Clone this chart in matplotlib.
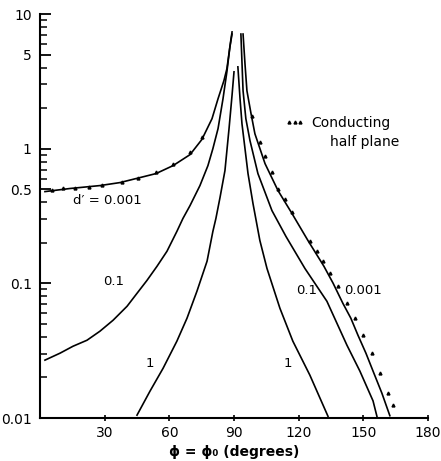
import matplotlib
matplotlib.use("Agg")
import matplotlib.pyplot as plt
from matplotlib.ticker import FixedLocator, NullFormatter

# ---- data (angle in degrees, normalised value) ----
l001_x = [2.3, 13.9, 27.8, 37.1, 46.4, 53.8, 61.7, 69.6, 75.1, 79.8, 82.6, 85.3, 86.7, 88.6, 89.1]
l001_y = [0.48, 0.506, 0.532, 0.560, 0.610, 0.653, 0.748, 0.903, 1.17, 1.67, 2.35, 3.19, 3.92, 6.53, 7.36]

l01_x = [2.3, 9.3, 15.3, 21.8, 27.8, 33.9, 40.4, 45.0, 49.6, 54.3, 58.9, 63.5, 66.3,
         69.6, 74.2, 77.9, 80.2, 82.6, 84.9, 86.7, 88.1, 89.1]
l01_y = [0.0269, 0.0303, 0.0341, 0.0378, 0.0441, 0.0532, 0.0676, 0.0843, 0.105, 0.134,
         0.173, 0.243, 0.303, 0.378, 0.532, 0.748, 1.0, 1.41, 2.35, 3.72, 5.7, 7.1]

l1_x = [45.0, 51.0, 57.1, 63.5, 68.2, 72.8, 77.5, 80.2, 81.6, 83.5, 85.8, 87.7, 89.1, 90.0]
l1_y = [0.0105, 0.0158, 0.0234, 0.0372, 0.0551, 0.0873, 0.146, 0.243, 0.303, 0.433,
        0.687, 1.41, 2.5, 3.72]

r1_x = [91.8, 92.8, 93.7, 95.1, 96.5, 98.8, 102.0, 105.3, 111.3, 117.3, 125.2, 133.6]
r1_y = [4.05, 2.35, 1.53, 1.0, 0.653, 0.392, 0.208, 0.129, 0.0653, 0.0372, 0.0208, 0.0103]

r01_x = [93.2, 94.2, 95.5, 97.4, 101.1, 107.6, 114.1, 122.9, 133.1, 142.4, 148.4, 154.5, 156.3]
r01_y = [7.1, 2.69, 1.67, 1.15, 0.653, 0.347, 0.223, 0.129, 0.0736, 0.0347, 0.0223,
         0.0134, 0.0103]

r001_x = [94.2, 95.1, 96.0, 97.9, 99.7, 104.4, 110.4, 116.9, 124.3, 131.7, 136.0, 140.5,
          144.2, 147.5, 151.2, 154.9, 158.6, 162.3]
r001_y = [7.1, 4.26, 2.69, 1.82, 1.29, 0.774, 0.489, 0.330, 0.208, 0.134, 0.100, 0.0711,
          0.0551, 0.0412, 0.0303, 0.0215, 0.0153, 0.0104]

chp_x = [5.6, 10.7, 16.2, 22.7, 28.8, 38.0, 45.5, 53.8, 61.7, 69.6, 75.1,
         98.3, 102.0, 104.4, 107.6, 110.4, 113.6, 116.9, 125.2, 128.5, 131.3, 134.5,
         138.2, 142.4, 146.1, 149.8, 154.0, 157.7, 161.4, 163.7]
chp_y = [0.497, 0.514, 0.514, 0.523, 0.541, 0.570, 0.610, 0.676, 0.774, 0.95, 1.23,
         1.75, 1.13, 0.887, 0.676, 0.506, 0.426, 0.341, 0.208, 0.175, 0.146, 0.119,
         0.095, 0.0711, 0.0551, 0.0412, 0.0303, 0.0215, 0.0153, 0.0125]

x_ticks = [30, 60, 90, 120, 150, 180]
y_major = [0.01, 0.1, 0.5, 1, 5, 10]
y_major_labels = ["0.01", "0.1", "0.5", "1", "5", "10"]

fig = plt.figure(figsize=(4.41, 4.61), dpi=100)
ax = fig.add_axes([40/441, 1-418/461, 388/441, 404/461])

lw = 1.2
for xs, ys in [(l001_x, l001_y), (l01_x, l01_y), (l1_x, l1_y),
               (r1_x, r1_y), (r01_x, r01_y), (r001_x, r001_y)]:
    ax.plot(xs, ys, color="black", lw=lw, solid_joinstyle="round")

ax.plot(chp_x, chp_y, linestyle="none", marker="^", markersize=2.1,
        color="black", label="Conducting")

ax.set_yscale("log")
ax.set_xlim(0, 180)
ax.set_ylim(0.01, 10)

ax.spines["top"].set_visible(False)
ax.spines["right"].set_visible(False)
ax.spines["left"].set_linewidth(1.5)
ax.spines["bottom"].set_linewidth(1.5)

ax.set_xticks(x_ticks)
ax.set_xticklabels([str(v) for v in x_ticks])
ax.xaxis.set_minor_locator(FixedLocator([]))
ax.tick_params(axis="x", which="major", direction="inout", length=5, width=1.2,
               labelsize=10, pad=3)

ax.yaxis.set_major_locator(FixedLocator(y_major))
ax.set_yticklabels(y_major_labels)
minors = []
for dec in [0.01, 0.1, 1]:
    for m in range(2, 10):
        v = dec * m
        if v not in (0.5, 5):
            minors.append(v)
ax.yaxis.set_minor_locator(FixedLocator(minors))
ax.yaxis.set_minor_formatter(NullFormatter())
ax.tick_params(axis="y", which="major", direction="in", length=8, width=1.3,
               labelsize=10, pad=6)
ax.tick_params(axis="y", which="minor", direction="in", length=5, width=1.1)

ax.set_xlabel("ϕ = ϕ₀ (degrees)", fontsize=10, fontweight="bold", labelpad=4)

# curve labels
ax.text(31.1, 0.41, "d′ = 0.001", fontsize=9.5, ha="center", va="center")
ax.text(34.3, 0.1035, "0.1", fontsize=9.5, ha="center", va="center")
ax.text(51.0, 0.0255, "1", fontsize=9.5, ha="center", va="center")
ax.text(115.0, 0.0255, "1", fontsize=9.5, ha="center", va="center")
ax.text(123.8, 0.0888, "0.1", fontsize=9.5, ha="center", va="center")
ax.text(149.8, 0.0888, "0.001", fontsize=9.5, ha="center", va="center")

leg = ax.legend(loc="center left", bbox_to_anchor=((285-40)/388, (418-123)/404),
                frameon=False, numpoints=3, handlelength=1.4, handletextpad=0.5,
                fontsize=10, borderpad=0, borderaxespad=0)
ax.text((330-40)/388, (418-142)/404, "half plane", transform=ax.transAxes,
        fontsize=10, ha="left", va="center")

fig.savefig("out.png", dpi=100)
